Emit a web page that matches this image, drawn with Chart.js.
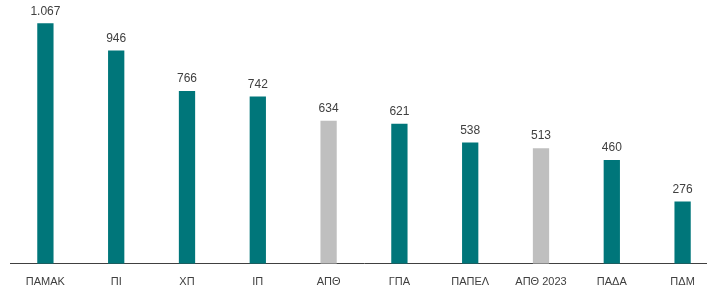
<!DOCTYPE html>
<html lang="el">
<head>
    <meta charset="UTF-8">
    <title>Ιδρύματα</title>
    <script src="https://cdn.jsdelivr.net/npm/chart.js"></script>
    <style>
        html, body { margin: 0; padding: 0; background: #fff; overflow: hidden; }
        #wrap { width: 718px; height: 301px; }
    </style>
</head>
<body>
<div id="wrap"><canvas id="myChart"></canvas></div>

<script>
    const categories = ['ΠΑΜΑΚ', 'ΠΙ', 'ΧΠ', 'ΙΠ', 'ΑΠΘ', 'ΓΠΑ', 'ΠΑΠΕΛ', 'ΑΠΘ 2023', 'ΠΑΔΑ', 'ΠΔΜ'];
    const values = [1067, 946, 766, 742, 634, 621, 538, 513, 460, 276];
    const greyBars = ['ΑΠΘ', 'ΑΠΘ 2023'];

    const teal = '#00767a';
    const grey = '#bfbfbf';

    function fmt(v) {
        return String(v).replace(/\B(?=(\d{3})+(?!\d))/g, '.');
    }

    // labels above the bars
    const valueLabels = {
        id: 'valueLabels',
        afterDatasetsDraw(chart) {
            const ctx = chart.ctx;
            const meta = chart.getDatasetMeta(0);
            ctx.save();
            ctx.font = '12px "Liberation Sans", Arial, sans-serif';
            ctx.fillStyle = '#404040';
            ctx.textAlign = 'center';
            ctx.textBaseline = 'bottom';
            meta.data.forEach((bar, i) => {
                ctx.fillText(fmt(values[i]), bar.x, bar.y - 6);
            });
            ctx.restore();
        }
    };

    const ctx = document.getElementById('myChart').getContext('2d');
    new Chart(ctx, {
        type: 'bar',
        data: {
            labels: categories,
            datasets: [{
                data: values,
                backgroundColor: categories.map(c => greyBars.includes(c) ? grey : teal),
                categoryPercentage: 1,
                barPercentage: 0.23
            }]
        },
        options: {
            responsive: true,
            maintainAspectRatio: false,
            animation: false,
            layout: { padding: { left: 10, right: 0, top: 0, bottom: 0 } },
            plugins: {
                legend: { display: false },
                tooltip: { enabled: false }
            },
            scales: {
                x: {
                    grid: { display: false, drawTicks: false },
                    border: { display: true, color: '#404040', width: 1 },
                    ticks: {
                        color: '#404040',
                        padding: 12,
                        font: { size: 11, family: '"Liberation Sans", Arial, sans-serif' }
                    }
                },
                y: {
                    display: false,
                    min: 0,
                    max: 1170
                }
            }
        },
        plugins: [valueLabels]
    });
</script>
</body>
</html>
